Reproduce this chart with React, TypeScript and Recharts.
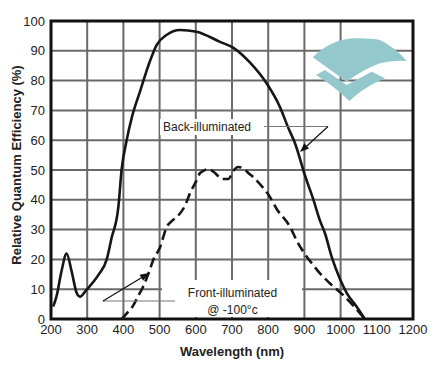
import React from 'react';
import { LineChart, Line, XAxis, YAxis, CartesianGrid, ReferenceArea } from 'recharts';

// wavelength (nm) / relative QE (%)
const backNm = [206, 215, 229, 243, 257, 271, 280, 298, 331, 354, 367, 386, 395, 409, 423, 446, 473, 492, 519, 556, 602, 667, 704, 750, 796, 833, 856, 874, 902, 925, 943, 957, 975, 998, 1017, 1044, 1067];
const backQe = [4.2, 7.5, 16, 22, 16, 8.7, 7.5, 9.8, 14.8, 20, 27, 37.5, 50, 60, 67.5, 76.4, 86.4, 92, 95.3, 97, 96.4, 93, 91, 86, 79, 71, 64, 59, 48, 40, 33, 28.7, 21, 13.5, 8.7, 4.2, 0];

const frontNm = [395, 410, 427, 440, 455, 470, 483, 501, 520, 535, 550, 570, 585, 600, 612, 635, 653, 672, 690, 704, 717, 732, 745, 760, 777, 805, 823, 860, 880, 906, 925, 943, 970, 1007, 1035, 1067];
const frontQe = [0, 2, 4.5, 7.5, 11, 15.5, 20, 24, 31, 33, 34.5, 38, 42.5, 46, 49, 50.3, 49, 47, 47, 49.8, 51, 50.5, 49, 47.5, 45.3, 40.9, 37, 31, 26, 21, 18, 15.3, 12, 8, 4.5, 0];

const xTicks = [200, 300, 400, 500, 600, 700, 800, 900, 1000, 1100, 1200];
const yTicks = [0, 10, 20, 30, 40, 50, 60, 70, 80, 90, 100];

const backData = backNm.map((nm, i) => ({ nm, qe: backQe[i] }));
const frontData = frontNm.map((nm, i) => ({ nm, qe: frontQe[i] }));

const FONT = '"Liberation Sans", Arial, sans-serif';

function arrowHead(x1: number, y1: number, x2: number, y2: number, len = 9, half = 3.5) {
  const dx = x2 - x1;
  const dy = y2 - y1;
  const d = Math.hypot(dx, dy);
  const ux = dx / d;
  const uy = dy / d;
  const bx = x2 - ux * len;
  const by = y2 - uy * len;
  return `${x2},${y2} ${bx - uy * half},${by + ux * half} ${bx + uy * half},${by - ux * half}`;
}

const Overlay = () => (
  <svg width={436} height={366} style={{ position: 'absolute', left: 0, top: 0, pointerEvents: 'none' }}>
    {/* logo */}
    <path d="M312.7,57.3 Q330,40 353,38.3 Q372,38 380,40 Q396,48 406.7,61 Q392,60 380,63.3 Q362,70 346.7,81.7 Z" fill="#93c8cd" />
    <path d="M316,75 L325,70 L346.7,85 L371.7,71.7 L385,78.3 Q364,87 349.3,101 Q334,86 316,75 Z" fill="#93c8cd" />

    {/* Back-illuminated label */}
    <rect x={160} y={119} width={104} height={16} fill="#fff" />
    <line x1={264} y1={126.5} x2={328} y2={126.5} stroke="#777" strokeWidth={1.2} />
    <line x1={328} y1={126.5} x2={303} y2={149.5} stroke="#111" strokeWidth={1.2} />
    <polygon points={arrowHead(328, 126.5, 300, 152)} fill="#111" />
    <text x={163} y={131} fontSize={12} fontFamily={FONT} fill="#222">Back-illuminated</text>

    {/* Front-illuminated label */}
    <rect x={162} y={280} width={140} height={37} fill="#fff" />
    <line x1={103} y1={301} x2={175} y2={301} stroke="#777" strokeWidth={1.2} />
    <line x1={103} y1={301} x2={146} y2={275} stroke="#111" strokeWidth={1.2} />
    <polygon points={arrowHead(103, 301, 149, 273)} fill="#111" />
    <text x={232.5} y={297} fontSize={12} fontFamily={FONT} fill="#222" textAnchor="middle">Front-illuminated</text>
    <text x={232.5} y={314} fontSize={12} fontFamily={FONT} fill="#222" textAnchor="middle">@ -100°c</text>

    {/* axis titles */}
    <text x={232} y={356} fontSize={13} fontWeight="bold" fontFamily={FONT} fill="#222" textAnchor="middle">Wavelength (nm)</text>
    <text x={0} y={0} fontSize={13} fontWeight="bold" fontFamily={FONT} fill="#222" textAnchor="middle"
      transform="translate(21,165) rotate(-90)">Relative Quantum Efficiency (%)</text>
  </svg>
);

export default function App() {
  return (
    <div style={{ position: 'absolute', left: 0, top: 0, width: 436, height: 366, background: '#fff', fontFamily: FONT }}>
      <LineChart width={436} height={366} margin={{ top: 21, right: 23, left: 0, bottom: 0 }}>
        <CartesianGrid stroke="#6a6a6a" strokeWidth={2} horizontalValues={yTicks} verticalValues={xTicks} />
        <XAxis type="number" dataKey="nm" domain={[200, 1200]} ticks={xTicks} allowDataOverflow
          height={47} tickLine={false} axisLine={false} tickSize={4} tickMargin={2}
          tick={{ fontSize: 13, fill: '#222', fontFamily: FONT }} />
        <YAxis type="number" domain={[0, 100]} ticks={yTicks} width={51}
          tickLine={false} axisLine={false} tickSize={4} tickMargin={2}
          tick={{ fontSize: 13, fill: '#222', fontFamily: FONT }} />
        <ReferenceArea x1={200} x2={1200} y1={0} y2={100} fill="none" stroke="#111" strokeWidth={3} ifOverflow="visible" />
        <Line data={backData} dataKey="qe" type="monotone" stroke="#161616" strokeWidth={2.6} dot={false} isAnimationActive={false} />
        <Line data={frontData} dataKey="qe" type="monotone" stroke="#161616" strokeWidth={2.6} strokeDasharray="10 5" dot={false} isAnimationActive={false} />
      </LineChart>
      <Overlay />
    </div>
  );
}
